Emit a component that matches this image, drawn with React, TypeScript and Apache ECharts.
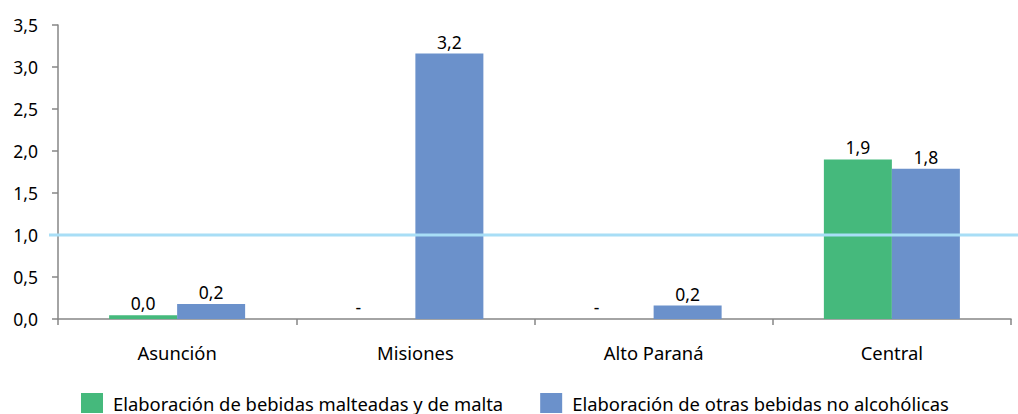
import React, { useEffect, useRef } from "react";
import * as echarts from "echarts";

const categories = ["Asunción", "Misiones", "Alto Paraná", "Central"];
const seriesNames = [
  "Elaboración de bebidas malteadas y de malta",
  "Elaboración de otras bebidas no alcohólicas",
];
const maltaValues = [0.045, 0, 0, 1.9];
const otrasValues = [0.18, 3.16, 0.16, 1.79];
const referenceValue = 1.0;
const yMin = 0;
const yMax = 3.5;
const yInterval = 0.5;

const FONT = "'Noto Sans', sans-serif";
const fmt = (v: number) => (v === 0 ? "-" : v.toFixed(1).replace(".", ","));

export default function App() {
  const ref = useRef<HTMLDivElement>(null);
  useEffect(() => {
    if (!ref.current) return;
    const chart = echarts.init(ref.current, undefined, { renderer: "svg" });
    const mkData = (vals: number[]) =>
      vals.map((v) =>
        v === 0
          ? { value: v, label: { offset: [-23, 0] } }
          : { value: v }
      );
    const labelCfg = {
      show: true,
      position: "top" as const,
      distance: 3,
      color: "#000",
      fontFamily: FONT,
      fontSize: 17.5,
      formatter: (p: any) => fmt(p.value as number),
    };
    chart.setOption({
      animation: false,
      grid: { left: 58, right: 7, top: 25, bottom: 95 },
      legend: {
        left: 76,
        top: 388,
        itemWidth: 22,
        itemHeight: 20,
        itemGap: 37,
        icon: "rect",
        textStyle: {
          fontFamily: FONT,
          fontSize: 18.4,
          lineHeight: 20,
          color: "#000",
          padding: [0, 0, 0, 5],
        },
        data: seriesNames,
      },
      xAxis: {
        type: "category",
        data: categories,
        axisLine: { lineStyle: { color: "#868686", width: 1.5 } },
        axisTick: { show: true, length: 6, lineStyle: { color: "#868686", width: 1.5 } },
        axisLabel: { color: "#000", fontFamily: FONT, fontSize: 18.4, margin: 24 },
      },
      yAxis: {
        type: "value",
        min: yMin,
        max: yMax,
        interval: yInterval,
        splitLine: { show: false },
        axisLine: { show: true, lineStyle: { color: "#868686", width: 1.5 } },
        axisTick: { show: true, length: 6, lineStyle: { color: "#868686", width: 1.5 } },
        axisLabel: {
          color: "#000",
          fontFamily: FONT,
          fontSize: 17.5,
          margin: 20,
          formatter: (v: number) => v.toFixed(1).replace(".", ","),
        },
      },
      series: [
        {
          name: seriesNames[0],
          type: "bar",
          data: mkData(maltaValues),
          barWidth: 68,
          barGap: "0%",
          itemStyle: { color: "#45b97c" },
          label: labelCfg,
        },
        {
          name: seriesNames[1],
          type: "bar",
          data: mkData(otrasValues),
          barWidth: 68,
          barGap: "0%",
          itemStyle: { color: "#6b91cb" },
          label: labelCfg,
        },
      ],
    });
    const y = chart.convertToPixel({ yAxisIndex: 0 }, referenceValue) as number;
    chart.setOption({
      graphic: [
        {
          type: "line",
          z: 100,
          shape: { x1: 49, y1: y, x2: 1018, y2: y },
          style: { stroke: "#a8def6", lineWidth: 3 },
        },
      ],
    });
    return () => chart.dispose();
  }, []);
  return (
    <div
      ref={ref}
      style={{ position: "fixed", left: 0, top: 0, width: 1018, height: 414, background: "#fff" }}
    />
  );
}
